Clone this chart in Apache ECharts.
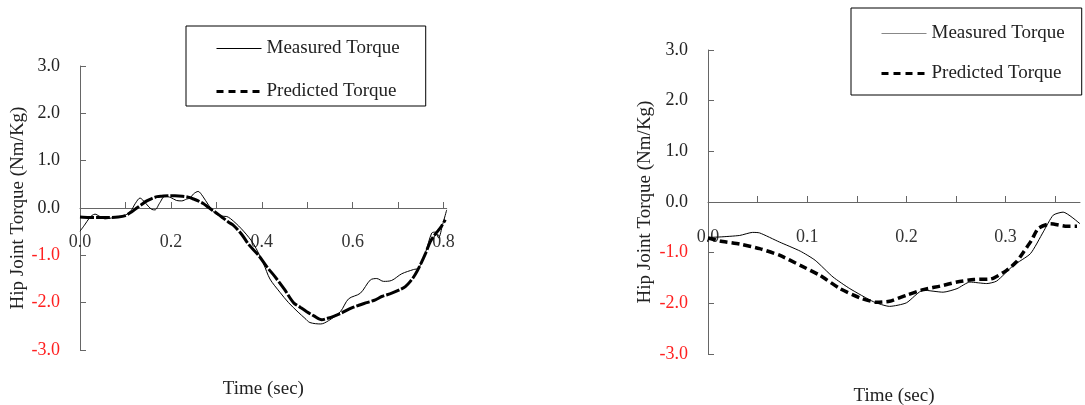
<!DOCTYPE html>
<html>
<head>
<meta charset="utf-8">
<script src="https://cdn.jsdelivr.net/npm/echarts@6/dist/echarts.min.js"></script>
<style>
  html, body { margin: 0; padding: 0; background: #fff; }
  #chart { width: 1085px; height: 405px; }
</style>
</head>
<body>
<div id="chart"></div>
<script>
// ---- data (time in sec, torque in Nm/Kg) ----
// left panel
const measuredLeft = [
  [0.000, -0.49], [0.010, -0.36], [0.020, -0.22], [0.026, -0.16], [0.033, -0.13],
  [0.042, -0.17], [0.055, -0.23], [0.070, -0.21], [0.084, -0.19], [0.100, -0.15],
  [0.112, -0.06], [0.122, 0.10], [0.132, 0.21], [0.140, 0.15], [0.150, 0.04],
  [0.158, -0.03], [0.165, -0.04], [0.175, 0.10], [0.187, 0.25], [0.200, 0.22],
  [0.212, 0.16], [0.224, 0.15], [0.235, 0.19], [0.242, 0.21], [0.250, 0.30],
  [0.260, 0.35], [0.270, 0.25], [0.283, 0.06], [0.297, -0.11], [0.310, -0.17],
  [0.323, -0.18], [0.338, -0.28], [0.360, -0.49], [0.382, -0.76], [0.404, -1.18],
  [0.418, -1.50], [0.440, -1.78], [0.459, -2.00], [0.480, -2.20], [0.495, -2.33],
  [0.506, -2.42], [0.530, -2.45], [0.547, -2.38], [0.573, -2.19], [0.591, -1.92],
  [0.617, -1.80], [0.639, -1.52], [0.653, -1.49], [0.668, -1.55], [0.686, -1.53],
  [0.708, -1.39], [0.734, -1.30], [0.745, -1.27], [0.760, -0.95], [0.774, -0.53],
  [0.782, -0.51], [0.789, -0.63], [0.798, -0.35], [0.807, -0.04]
];
const predictedLeft = [
  [0.000, -0.19], [0.020, -0.20], [0.040, -0.20], [0.060, -0.20], [0.084, -0.19],
  [0.100, -0.16], [0.114, -0.08], [0.125, 0.00], [0.135, 0.07], [0.147, 0.15],
  [0.158, 0.20], [0.170, 0.24], [0.180, 0.25], [0.195, 0.26], [0.209, 0.26],
  [0.225, 0.25], [0.238, 0.23], [0.250, 0.19], [0.260, 0.15], [0.272, 0.09],
  [0.283, 0.01], [0.295, -0.07], [0.305, -0.14], [0.316, -0.22], [0.327, -0.30],
  [0.338, -0.37], [0.356, -0.56], [0.372, -0.78], [0.393, -1.00], [0.411, -1.24],
  [0.429, -1.45], [0.450, -1.72], [0.470, -2.00], [0.485, -2.10], [0.499, -2.19],
  [0.515, -2.28], [0.532, -2.36], [0.545, -2.33], [0.558, -2.29], [0.575, -2.22],
  [0.598, -2.11], [0.612, -2.06], [0.631, -2.00], [0.650, -1.94], [0.664, -1.87],
  [0.686, -1.80], [0.705, -1.72], [0.716, -1.66], [0.727, -1.55], [0.738, -1.40],
  [0.749, -1.20], [0.760, -0.97], [0.771, -0.71], [0.782, -0.55], [0.793, -0.42],
  [0.804, -0.25]
];
// right panel
const measuredRight = [
  [0.000, -0.70], [0.012, -0.69], [0.032, -0.66], [0.045, -0.60], [0.052, -0.61],
  [0.072, -0.79], [0.093, -0.97], [0.108, -1.15], [0.126, -1.48], [0.143, -1.71],
  [0.167, -1.97], [0.183, -2.06], [0.200, -1.99], [0.217, -1.74], [0.237, -1.78],
  [0.251, -1.71], [0.264, -1.58], [0.281, -1.61], [0.291, -1.56], [0.308, -1.25],
  [0.325, -1.02], [0.338, -0.59], [0.348, -0.26], [0.358, -0.20], [0.375, -0.43]
];
const predictedRight = [
  [0.000, -0.71], [0.012, -0.77], [0.032, -0.83], [0.052, -0.92], [0.072, -1.05],
  [0.093, -1.25], [0.113, -1.45], [0.133, -1.71], [0.153, -1.89], [0.170, -1.98],
  [0.183, -1.96], [0.200, -1.84], [0.217, -1.73], [0.234, -1.66], [0.251, -1.58],
  [0.268, -1.53], [0.285, -1.52], [0.301, -1.35], [0.311, -1.18], [0.318, -0.99],
  [0.326, -0.76], [0.333, -0.52], [0.345, -0.43], [0.362, -0.48], [0.372, -0.48]
];

// ---- ticks / labels ----
const xTicksLeft = [0, 0.1, 0.2, 0.3, 0.4, 0.5, 0.6, 0.7, 0.8];
const xLabelsLeft = [0, 0.2, 0.4, 0.6, 0.8];
const xTicksRight = [0, 0.05, 0.1, 0.15, 0.2, 0.25, 0.3, 0.35];
const xLabelsRight = [0, 0.1, 0.2, 0.3];
const xMaxLeft = 0.807;
const xMaxRight = 0.375;

const seriesNames = ['Measured Torque', 'Predicted Torque'];
const xTitle = 'Time (sec)';
const yTitle = 'Hip Joint Torque (Nm/Kg)';

const fontFamily = '"Liberation Serif", "DejaVu Serif", serif';
const axisColor = '#666';

// labels and name are laid out from the grid bottom, line and ticks sit on zero
function xAxisOf(gridIndex, max, ticks, labels, labelMargin, nameGap) {
  return {
    type: 'value',
    gridIndex: gridIndex,
    min: 0,
    max: max,
    name: xTitle,
    nameLocation: 'middle',
    nameGap: nameGap,
    nameTextStyle: {fontFamily: fontFamily, fontSize: 19, color: '#222'},
    axisLine: {onZero: true, lineStyle: {color: axisColor, width: 1}},
    axisTick: {show: true, inside: true, length: 6, customValues: ticks, lineStyle: {color: axisColor}},
    axisLabel: {
      customValues: labels,
      margin: labelMargin,
      fontFamily: fontFamily,
      fontSize: 18,
      color: '#333',
      formatter: function (v) { return v.toFixed(1); }
    },
    splitLine: {show: false}
  };
}

function yAxisOf(gridIndex, nameGap) {
  return {
    type: 'value',
    gridIndex: gridIndex,
    min: -3,
    max: 3,
    interval: 1,
    name: yTitle,
    nameLocation: 'middle',
    nameGap: nameGap,
    nameTextStyle: {fontFamily: fontFamily, fontSize: 19, color: '#222'},
    axisLine: {show: true, onZero: false, lineStyle: {color: axisColor, width: 1}},
    axisTick: {show: true, inside: true, length: 6, lineStyle: {color: axisColor}},
    axisLabel: {
      margin: 20,
      fontFamily: fontFamily,
      fontSize: 18,
      color: function (v) { return Number(v) < 0 ? '#ff2020' : '#222'; },
      formatter: function (v) { return v.toFixed(1); }
    },
    splitLine: {show: false}
  };
}

function legendOf(left, top, padding, itemGap, measuredColor) {
  return {
    orient: 'vertical',
    left: left,
    top: top,
    padding: padding,
    itemGap: itemGap,
    itemWidth: 45,
    itemHeight: 20,
    borderColor: '#000',
    borderWidth: 1,
    selectedMode: false,
    textStyle: {fontFamily: fontFamily, fontSize: 19, color: '#222'},
    data: [
      {
        name: seriesNames[0],
        itemStyle: {opacity: 0},
        lineStyle: {color: measuredColor, width: 1, type: 'solid', opacity: 1}
      },
      {
        name: seriesNames[1],
        itemStyle: {opacity: 0},
        lineStyle: {color: '#000', width: 3, type: [7, 5], opacity: 1}
      }
    ]
  };
}

const chart = echarts.init(document.getElementById('chart'), null, {renderer: 'canvas'});

const option = {
  animation: false,
  backgroundColor: '#fff',
  grid: [
    {left: 80, top: 66, width: 366.7, height: 284, outerBoundsMode: 'none'},
    {left: 708, top: 50, width: 372, height: 304, outerBoundsMode: 'none'}
  ],
  xAxis: [
    xAxisOf(0, xMaxLeft, xTicksLeft, xLabelsLeft, -117, 30),
    xAxisOf(1, xMaxRight, xTicksRight, xLabelsRight, -126, 33)
  ],
  yAxis: [
    yAxisOf(0, 52),
    yAxisOf(1, 53)
  ],
  legend: [
    legendOf(186, 26, [13, 26, 5, 29], 24, '#000'),
    legendOf(851, 8, [16, 17, 12, 29], 21, '#888')
  ],
  series: [
    {
      name: seriesNames[0], type: 'line', xAxisIndex: 0, yAxisIndex: 0,
      data: measuredLeft, symbol: 'none', smooth: 0.3,
      itemStyle: {color: '#000'},
      lineStyle: {color: '#000', width: 1}
    },
    {
      name: seriesNames[1], type: 'line', xAxisIndex: 0, yAxisIndex: 0,
      data: predictedLeft, symbol: 'none', smooth: 0.3,
      itemStyle: {color: '#000'},
      lineStyle: {color: '#000', width: 3, type: [14, 2]}
    },
    {
      name: seriesNames[0], type: 'line', xAxisIndex: 1, yAxisIndex: 1,
      data: measuredRight, symbol: 'none', smooth: 0.2,
      itemStyle: {color: '#000'},
      lineStyle: {color: '#000', width: 1}
    },
    {
      name: seriesNames[1], type: 'line', xAxisIndex: 1, yAxisIndex: 1,
      data: predictedRight, symbol: 'none', smooth: 0.2,
      itemStyle: {color: '#000'},
      lineStyle: {color: '#000', width: 3.5, type: [8, 4]}
    }
  ]
};

chart.setOption(option);
</script>
</body>
</html>
